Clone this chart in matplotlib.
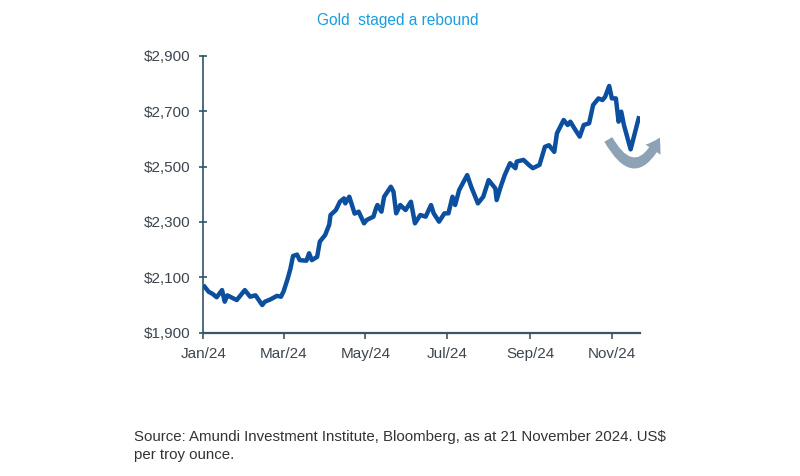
import matplotlib.pyplot as plt
import matplotlib.dates as mdates
import pandas as pd
from matplotlib.patches import FancyArrowPatch

dates = [
    "2024-01-02", "2024-01-05", "2024-01-08", "2024-01-11", "2024-01-15", "2024-01-17",
    "2024-01-19", "2024-01-23", "2024-01-26", "2024-02-01", "2024-02-05", "2024-02-09",
    "2024-02-14", "2024-02-16", "2024-02-20", "2024-02-25", "2024-02-28", "2024-03-01",
    "2024-03-04", "2024-03-06", "2024-03-08", "2024-03-11", "2024-03-13", "2024-03-18",
    "2024-03-20", "2024-03-22", "2024-03-26", "2024-03-28", "2024-04-01", "2024-04-04",
    "2024-04-05", "2024-04-09", "2024-04-12", "2024-04-15", "2024-04-16", "2024-04-19",
    "2024-04-23", "2024-04-26", "2024-04-30", "2024-05-02", "2024-05-07", "2024-05-09",
    "2024-05-10", "2024-05-13", "2024-05-15", "2024-05-20", "2024-05-22", "2024-05-24",
    "2024-05-27", "2024-05-31", "2024-06-04", "2024-06-07", "2024-06-11", "2024-06-15",
    "2024-06-19", "2024-06-21", "2024-06-25", "2024-06-29", "2024-07-02", "2024-07-05",
    "2024-07-07", "2024-07-10", "2024-07-16", "2024-07-19", "2024-07-21", "2024-07-24",
    "2024-07-28", "2024-08-01", "2024-08-06", "2024-08-07", "2024-08-10", "2024-08-13",
    "2024-08-17", "2024-08-21", "2024-08-22", "2024-08-27", "2024-08-31", "2024-09-03",
    "2024-09-08", "2024-09-12", "2024-09-15", "2024-09-19", "2024-09-21", "2024-09-26",
    "2024-09-29", "2024-10-01", "2024-10-04", "2024-10-08", "2024-10-11", "2024-10-15",
    "2024-10-18", "2024-10-22", "2024-10-25", "2024-10-27", "2024-10-30", "2024-11-01",
    "2024-11-04", "2024-11-06", "2024-11-08", "2024-11-10", "2024-11-15", "2024-11-21",
]
gold = [
    2066, 2048, 2040, 2028, 2054, 2012,
    2035, 2025, 2018, 2054, 2030, 2035,
    2000, 2012, 2020, 2033, 2030, 2050,
    2095, 2130, 2177, 2182, 2162, 2160,
    2187, 2162, 2174, 2229, 2253, 2290,
    2325, 2343, 2373, 2385, 2367, 2391,
    2330, 2337, 2295, 2307, 2319, 2350,
    2361, 2337, 2391, 2427, 2409, 2331,
    2361, 2343, 2373, 2295, 2325, 2319,
    2361, 2331, 2301, 2331, 2331, 2391,
    2361, 2415, 2469, 2427, 2403, 2367,
    2391, 2451, 2421, 2379, 2427, 2469,
    2512, 2494, 2518, 2524, 2506, 2494,
    2506, 2571, 2577, 2553, 2620, 2668,
    2650, 2662, 2638, 2608, 2650, 2656,
    2722, 2746, 2740, 2752, 2791, 2746,
    2746, 2662, 2698, 2650, 2562, 2674,
]
y_ticks = [1900, 2100, 2300, 2500, 2700, 2900]

x = pd.to_datetime(dates)

plt.rcParams['font.family'] = ['Liberation Sans', 'DejaVu Sans']

fig = plt.figure(figsize=(8, 4.76), dpi=100)
ax = fig.add_axes([0.2541, 0.3010, 0.5459, 0.5819])

ax.plot(x, gold, color='#0b4f9e', lw=3.2, solid_joinstyle='round', zorder=3)

ax.set_xlim(pd.Timestamp('2024-01-01'), pd.Timestamp('2024-11-22'))
ax.set_ylim(1900, 2900)
ax.set_yticks(y_ticks)
ax.set_yticklabels([f"${v:,}" for v in y_ticks])
ax.xaxis.set_major_locator(mdates.MonthLocator(bymonth=[1, 3, 5, 7, 9, 11]))
ax.xaxis.set_major_formatter(mdates.DateFormatter('%b/%y'))

for side in ['top', 'right']:
    ax.spines[side].set_visible(False)
ax.spines['left'].set_color('#2e5566')
ax.spines['bottom'].set_color('#3e5566')
ax.spines['left'].set_linewidth(1.2)
ax.spines['bottom'].set_linewidth(1.6)
ax.tick_params(axis='y', direction='inout', length=6, width=1.2, color='#2e5566',
               labelsize=11, labelcolor='#3d4650', pad=6)
ax.tick_params(axis='x', direction='out', length=4, width=1.2, color='#3e5566',
               labelsize=11, labelcolor='#3d4650', pad=6)

# rebound arrow, drawn under the price line
arrow = FancyArrowPatch((607 / 800, 1 - 137 / 476), (661 / 800, 1 - 135 / 476),
                        transform=fig.transFigure,
                        connectionstyle='arc3,rad=1.0',
                        arrowstyle='simple,head_width=0.65,head_length=0.5,tail_width=0.33',
                        mutation_scale=20, color='#8da2b4', lw=0, clip_on=False, zorder=1)
ax.add_patch(arrow)

fig.text(0.4975, 1 - 21 / 476, 'Gold  staged a rebound', ha='center', va='center',
         fontsize=11.2, color='#1a9ee0')
fig.text(134 / 800, 1 - 446 / 476,
         'Source: Amundi Investment Institute, Bloomberg, as at 21 November 2024. US$\nper troy ounce.',
         ha='left', va='center', fontsize=10.8, color='#333333', linespacing=1.3)

fig.savefig('out.png', dpi=100)
